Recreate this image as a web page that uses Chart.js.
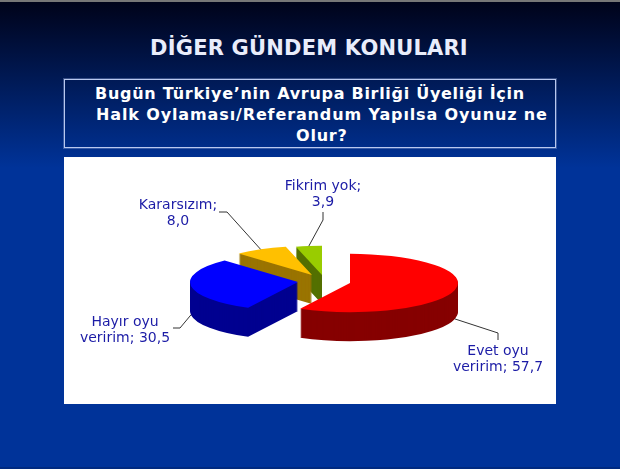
<!DOCTYPE html>
<html lang="tr">
<head>
<meta charset="utf-8">
<title>Diğer Gündem Konuları</title>
<script src="https://cdn.jsdelivr.net/npm/chart.js@4/dist/chart.umd.min.js"></script>
<style>
  html, body { margin: 0; padding: 0; }
  body {
    position: relative; width: 620px; height: 469px; overflow: hidden;
    background: linear-gradient(to bottom, #777 0, #777 2px, #00031a 2px, #003399 168px, #003399 467px, #002a80 467px);
    color: #fff;
  }
  #title {
    position: absolute; left: 0; top: 36px; width: 618px; text-align: center;
    font: bold 21px "DejaVu Sans", sans-serif; color: #e9edfb; letter-spacing: 0.2px;
  }
  #box {
    position: absolute; left: 64px; top: 79px; width: 490px; height: 67px;
    border: 1px solid #b9c8ee; outline: 1px solid rgba(160,180,230,0.35);
  }
  #box span {
    position: absolute; white-space: nowrap;
    font: bold 16px "DejaVu Sans", sans-serif;
  }
  #panel { position: absolute; left: 64px; top: 157px; width: 492px; height: 247px; background: #fff; }
</style>
</head>
<body>
<div id="title">DİĞER GÜNDEM KONULARI</div>
<div id="box">
  <span style="left:30px;top:4px;letter-spacing:0.71px">Bugün Türkiye’nin Avrupa Birliği Üyeliği İçin</span>
  <span style="left:31px;top:25px;letter-spacing:0.87px">Halk Oylaması/Referandum Yapılsa Oyunuz ne</span>
  <span style="left:231px;top:46px;letter-spacing:0.78px">Olur?</span>
</div>
<div id="panel"><canvas id="pie" width="492" height="247"></canvas></div>
<script>
const categories = ['Evet oyu veririm', 'Hayır oyu veririm', 'Kararsızım', 'Fikrim yok'];
const values = [57.7, 30.5, 8.0, 3.9];
const topColors = ['#ff0000', '#0000ff', '#ffc000', '#99cc00'];
const sideColors = ['#860000', '#000090', '#9a7400', '#557000'];

// how the fake 3D is set up, all in canvas px
const squash = 0.27;
const depth = 29;
const pieShift = { x: 40, y: 2.5 };
const explode = [[0, 0], [-52, -1], [-38, -8], [-28, -8]];
const wordsOnFirstLine = [2, 2, 1, 2];
// label centre, then the elbow of the leader line
const labelPos = [[434, 202], [61, 173], [114, 56], [259, 37]];
const elbows = [[[434, 176], [434, 183]], [[116, 171], [109, 171]], [[163, 55], [155, 55]], [[259, 63], [259, 55]]];
const leaderFromBottom = [true, true, false, false];

function pieCentre(chart, i) {
  const area = chart.chartArea;
  return {
    x: (area.left + area.right) / 2 + pieShift.x + explode[i][0],
    y: (area.top + area.bottom) / 2 + pieShift.y + explode[i][1]
  };
}

function drawSlice(ctx, arc, c, yOff, color) {
  const base = arc.options;
  arc.options = Object.assign({}, base, { backgroundColor: color, borderWidth: 0 });
  ctx.save();
  ctx.translate(c.x, c.y + yOff);
  ctx.scale(1, squash);
  ctx.translate(-arc.x, -arc.y);
  arc.draw(ctx);
  ctx.restore();
  arc.options = base;
}

const pie3d = {
  id: 'pie3d',
  beforeDatasetsDraw(chart) {
    const ctx = chart.ctx;
    const arcs = chart.getDatasetMeta(0).data;
    // back slices first so the red one ends up in front
    for (let i = arcs.length - 1; i >= 0; i--) {
      const c = pieCentre(chart, i);
      for (let d = depth; d > 0; d--) drawSlice(ctx, arcs[i], c, d, sideColors[i]);
      drawSlice(ctx, arcs[i], c, 0, topColors[i]);
    }
    return false;
  },
  // afterDatasetsDraw does not fire once the hook above returns false
  afterDraw(chart) {
    const ctx = chart.ctx;
    const arcs = chart.getDatasetMeta(0).data;
    ctx.save();
    arcs.forEach((arc, i) => {
      const c = pieCentre(chart, i);
      const mid = (arc.startAngle + arc.endAngle) / 2;
      const sx = c.x + Math.cos(mid) * arc.outerRadius;
      const sy = c.y + Math.sin(mid) * arc.outerRadius * squash + (leaderFromBottom[i] ? depth : 0);
      ctx.beginPath();
      ctx.moveTo(sx, sy);
      elbows[i].forEach(p => ctx.lineTo(p[0], p[1]));
      ctx.lineWidth = 1;
      ctx.strokeStyle = '#333';
      ctx.stroke();

      const words = (categories[i] + '; ' + values[i].toFixed(1).replace('.', ',')).split(' ');
      const n = wordsOnFirstLine[i];
      ctx.font = '14px "DejaVu Sans", sans-serif';
      ctx.fillStyle = '#1c1ca6';
      ctx.textAlign = 'center';
      ctx.textBaseline = 'middle';
      ctx.fillText(words.slice(0, n).join(' '), labelPos[i][0], labelPos[i][1] - 8);
      ctx.fillText(words.slice(n).join(' '), labelPos[i][0], labelPos[i][1] + 8);
    });
    ctx.restore();
  }
};

new Chart(document.getElementById('pie'), {
  type: 'pie',
  data: {
    labels: categories,
    datasets: [{ data: values, backgroundColor: topColors, borderWidth: 0, radius: 108 }]
  },
  options: {
    responsive: false,
    animation: false,
    layout: { padding: 0 },
    plugins: { legend: { display: false }, tooltip: { enabled: false } }
  },
  plugins: [pie3d]
});
</script>
</body>
</html>
